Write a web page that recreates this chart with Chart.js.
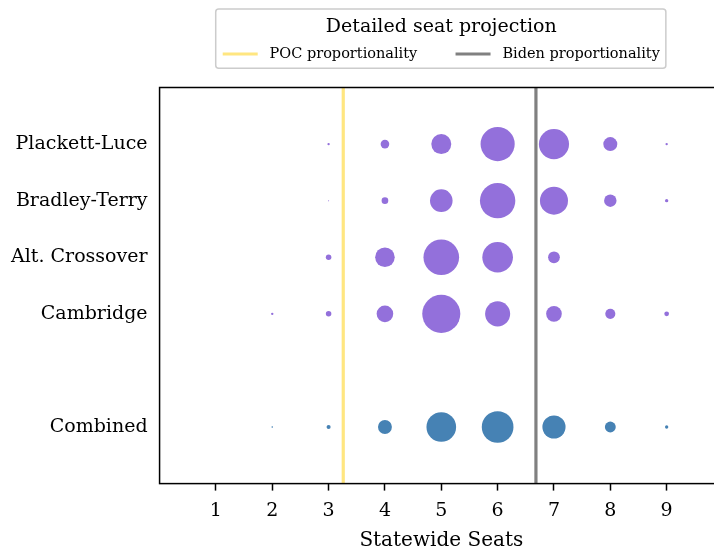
<!DOCTYPE html>
<html>
<head>
<meta charset="utf-8">
<script src="https://cdn.jsdelivr.net/npm/chart.js@4.4.1/dist/chart.umd.min.js"></script>
<style>
  html, body { margin: 0; padding: 0; background: #fff; overflow: hidden; }
  #seatChart { display: block; }
</style>
</head>
<body>
<canvas id="seatChart" width="730" height="553"></canvas>
<script>
// seat counts on the x axis and the rows on the y axis
const seats = [2, 3, 4, 5, 6, 7, 8, 9];
const xTicks = [1, 2, 3, 4, 5, 6, 7, 8, 9];
const methods = ["Plackett-Luce", "Bradley-Terry", "Alt. Crossover", "Cambridge", "Combined"];
const rowPos = [5, 4, 3, 2, 0];

// share of simulated outcomes at each seat count
const plackettLuce = [0, 0.002, 0.027, 0.145, 0.423, 0.330, 0.071, 0.002];
const bradleyTerry = [0, 0.0004, 0.016, 0.185, 0.454, 0.285, 0.056, 0.004];
const altCrossover = [0, 0.011, 0.139, 0.460, 0.340, 0.050, 0, 0];
const cambridge = [0.002, 0.011, 0.100, 0.525, 0.228, 0.089, 0.037, 0.008];
const combined = [0.001, 0.006, 0.070, 0.319, 0.364, 0.194, 0.043, 0.004];

// proportionality references
const pocSeats = 3.26;
const bidenSeats = 6.68;

const FONT = "'DejaVu Serif', serif";
const PURPLE = "#9370db";
const BLUE = "#4682b4";
const AREA = 690; // px^2 of a bubble holding the whole distribution

const rows = [plackettLuce, bradleyTerry, altCrossover, cambridge, combined];

function bubbleSet(values, row, color, label) {
  return {
    type: "bubble",
    label: label,
    isBubble: true,
    data: seats.map((s, i) => ({ x: s, y: rowPos[row], r: Math.sqrt(values[i] * AREA) })),
    backgroundColor: color,
    borderWidth: 0,
    hoverBorderWidth: 0,
    order: 1,
  };
}

function refLine(x, color, label) {
  return {
    type: "line",
    label: label,
    data: [{ x: x, y: -1 }, { x: x, y: 6 }],
    borderColor: color,
    backgroundColor: color,
    borderWidth: 3.2,
    pointRadius: 0,
    fill: false,
    order: 5,
  };
}

const datasets = rows.map((vals, k) =>
  bubbleSet(vals, k, k === rows.length - 1 ? BLUE : PURPLE, methods[k])
);
datasets.push(refLine(pocSeats, "#ffe680", "POC proportionality"));
datasets.push(refLine(bidenSeats, "#808080", "Biden proportionality"));

const framePlugin = {
  id: "frame",
  afterDraw(chart) {
    const { ctx, chartArea } = chart;
    ctx.save();
    ctx.strokeStyle = "#000";
    ctx.lineWidth = 1.5;
    ctx.strokeRect(chartArea.left, chartArea.top, chartArea.right - chartArea.left, chartArea.bottom - chartArea.top);

    // rounded box round the legend
    const lg = chart.legend;
    if (lg && lg.legendHitBoxes && lg.legendHitBoxes.length) {
      const hb = lg.legendHitBoxes;
      const left = Math.min(...hb.map((b) => b.left)) - 7;
      const right = Math.max(...hb.map((b) => b.left + b.width)) + 6;
      const top = 9;
      const bottom = Math.max(...hb.map((b) => b.top + b.height)) + 7;
      ctx.strokeStyle = "#cccccc";
      ctx.lineWidth = 1.5;
      ctx.beginPath();
      ctx.roundRect(left, top, right - left, bottom - top, 3);
      ctx.stroke();
    }
    ctx.restore();
  },
};

new Chart(document.getElementById("seatChart"), {
  data: { datasets },
  options: {
    responsive: false,
    animation: false,
    layout: { autoPadding: false, padding: { left: -1, right: 7, top: 8, bottom: 0 } },
    scales: {
      x: {
        type: "linear",
        min: 0,
        max: 10,
        afterBuildTicks: (axis) => {
          axis.ticks = xTicks.map((v) => ({ value: v }));
        },
        ticks: {
          color: "#000",
          padding: 8.6,
          font: { family: FONT, size: 19 },
        },
        grid: {
          drawOnChartArea: false,
          drawTicks: true,
          tickLength: 7,
          tickColor: "#000",
          tickWidth: 1.5,
        },
        border: { display: false },
        title: {
          display: true,
          text: "Statewide Seats",
          color: "#000",
          font: { family: FONT, size: 20 },
          padding: { top: -1.6, bottom: 0 },
        },
      },
      // empty axis, only keeps a gap between legend and plot
      gap: {
        type: "linear",
        position: "top",
        ticks: { display: false },
        grid: { display: false, drawTicks: false, tickLength: 0 },
        border: { display: false },
        title: { display: true, text: " ", font: { size: 10 }, padding: { top: 2.1, bottom: 2.1 } },
      },
      y: {
        type: "linear",
        min: -1,
        max: 6,
        afterBuildTicks: (axis) => {
          axis.ticks = rowPos.map((v) => ({ value: v }));
        },
        ticks: {
          color: "#000",
          padding: 12,
          font: { family: FONT, size: 19 },
          callback: (v) => methods[rowPos.indexOf(v)],
        },
        grid: { display: false, drawTicks: false, tickLength: 0 },
        border: { display: false },
      },
    },
    plugins: {
      tooltip: { enabled: false },
      legend: {
        position: "top",
        fullSize: false,
        labels: {
          color: "#000",
          font: { family: FONT, size: 14.5 },
          boxWidth: 35,
          boxHeight: 3,
          padding: 6,
          filter: (item, data) => !data.datasets[item.datasetIndex].isBubble,
          generateLabels: (chart) =>
            chart.data.datasets.map((ds, i) => ({
              text: ds.isBubble ? ds.label : " " + ds.label + (i === chart.data.datasets.length - 1 ? "" : "       "),
              fillStyle: ds.borderColor,
              strokeStyle: ds.borderColor,
              lineWidth: 0,
              hidden: false,
              datasetIndex: i,
              fontColor: "#000",
            })),
        },
        title: {
          display: true,
          text: "Detailed seat projection",
          color: "#000",
          font: { family: FONT, size: 19 },
          padding: { top: 10, bottom: 0 },
        },
      },
    },
  },
  plugins: [framePlugin],
});
</script>
</body>
</html>
